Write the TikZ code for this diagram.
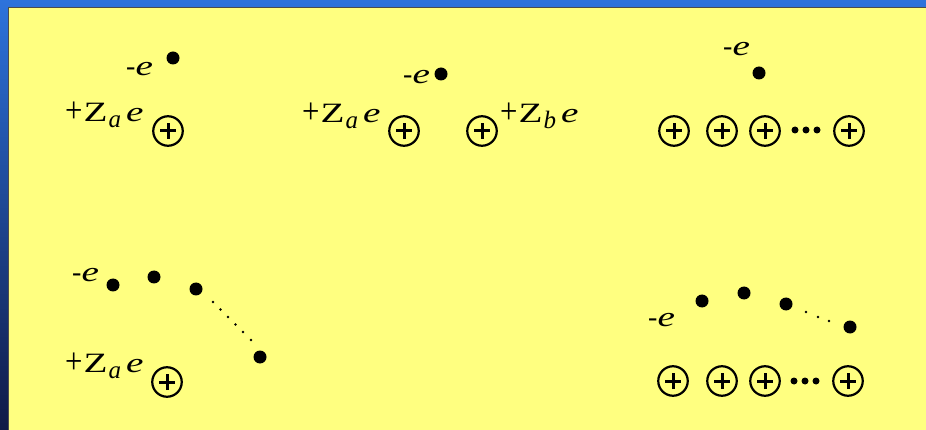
\documentclass[tikz,border=0pt]{standalone}
\usepackage{fontspec}
\setmainfont{Liberation Serif}
\newcommand\ee{\scalebox{1.4}[1]{\textit{e}}}
\newcommand\mine{-\ee}
\newcommand\zlab[1]{\raisebox{-1pt}{\scalebox{1.1}[1.3]{+}}\hspace{1pt}\scalebox{1.4}[1]{Z}\hspace{1pt}\raisebox{-6pt}{\fontsize{25}{25}\selectfont\textit{#1}}\hspace{5pt}\ee}
\definecolor{bgyellow}{RGB}{255,255,128}
\definecolor{frametop}{RGB}{45,115,220}
\definecolor{framebot}{RGB}{15,25,70}
\begin{document}
\begin{tikzpicture}[x=1pt,y=-1pt,
  electron/.style={circle,fill=black,inner sep=0pt,minimum size=13pt},
  nucleus/.style={circle,draw=black,line width=2.2pt,inner sep=0pt,minimum size=29.5pt,
    path picture={
      \draw[line width=3pt] ([xshift=-8pt]path picture bounding box.center) -- ([xshift=8pt]path picture bounding box.center);
      \draw[line width=3pt] ([yshift=-8pt]path picture bounding box.center) -- ([yshift=8pt]path picture bounding box.center);}},
  tinydot/.style={circle,fill=black,inner sep=0pt,minimum size=2.6pt},
  middot/.style={circle,fill=black,inner sep=0pt,minimum size=7pt},
  lbl/.style={anchor=base west,inner sep=0pt,font=\fontsize{28}{34}\selectfont}]
\useasboundingbox (0,0) rectangle (926,430);
\shade[top color=frametop,bottom color=framebot] (0,0) rectangle (926,430);
\fill[bgyellow] (8,7) rectangle (926,430);
\draw[black!70,line width=0.8pt] (8.4,430) -- (8.4,7.4) -- (926,7.4);

% Panel 1
\node[electron] (e1) at (173,58) {};
\node[lbl] (m1) at (126,76) {\mine};
\node[lbl] (z1) at (65,122) {\zlab{a}};
\node[nucleus] (n1) at (168,131) {};

% Panel 2
\node[electron] (e2) at (441,74) {};
\node[lbl] (m2) at (403,84) {\mine};
\node[lbl] (z2a) at (302,123) {\zlab{a}};
\node[nucleus] (n2a) at (404,131) {};
\node[nucleus] (n2b) at (482,131) {};
\node[lbl] (z2b) at (500,123) {\zlab{b}};

% Panel 3
\node[lbl] (m3) at (723,56) {\mine};
\node[electron] (e3) at (759,73) {};
\node[nucleus] (n3a) at (674,131) {};
\node[nucleus] (n3b) at (722,131) {};
\node[nucleus] (n3c) at (765,131) {};
\node[middot] (d3a) at (795,130) {};
\node[middot] (d3b) at (806,130) {};
\node[middot] (d3c) at (817,130) {};
\node[nucleus] (n3d) at (849,131) {};

% Panel 4
\node[lbl] (m4) at (72,282) {\mine};
\node[electron] (e4a) at (113,285) {};
\node[electron] (e4b) at (154,277) {};
\node[electron] (e4c) at (196,289) {};
\node[electron] (e4d) at (260,357) {};
\foreach \i/\x/\y in {1/213/302,2/220.5/309.5,3/228/317,4/235.5/324.5,5/243/332,6/251/340}
  \node[tinydot] (t4\i) at (\x,\y) {};
\node[lbl] (z4) at (65,372) {\zlab{a}};
\node[nucleus] (n4) at (167,382) {};

% Panel 5
\node[lbl] (m5) at (648,326) {\mine};
\node[electron] (e5a) at (702,301) {};
\node[electron] (e5b) at (744,293) {};
\node[electron] (e5c) at (786,304) {};
\node[electron] (e5d) at (850,327) {};
\foreach \i/\x/\y in {1/806/312,2/818/317,3/829/321}
  \node[tinydot] (t5\i) at (\x,\y) {};
\node[nucleus] (n5a) at (673,381) {};
\node[nucleus] (n5b) at (722,381) {};
\node[nucleus] (n5c) at (765,381) {};
\node[middot] (d5a) at (794,381) {};
\node[middot] (d5b) at (805,381) {};
\node[middot] (d5c) at (816,381) {};
\node[nucleus] (n5d) at (848,381) {};
\end{tikzpicture}
\end{document}
